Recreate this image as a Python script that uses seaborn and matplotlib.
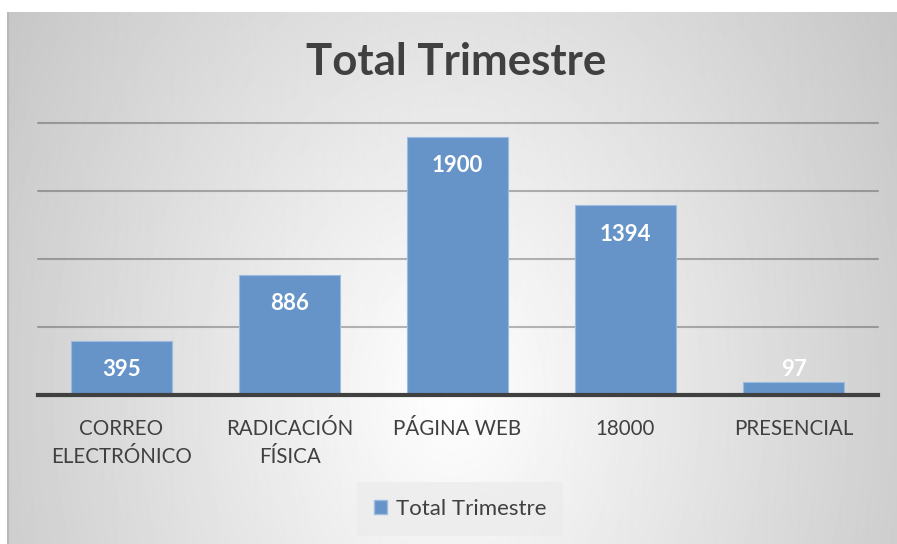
import numpy as np
import matplotlib
matplotlib.use('Agg')
import matplotlib.pyplot as plt
import seaborn as sns

# Data
categorias = ['CORREO\nELECTRÓNICO', 'RADICACIÓN\nFÍSICA', 'PÁGINA WEB', '18000', 'PRESENCIAL']
valores = [395, 886, 1900, 1394, 97]
serie = 'Total Trimestre'
titulo = 'Total Trimestre'
lineas_guia = [500, 1000, 1500, 2000]

bar_color = '#6794C8'
text_color = '#404040'

sns.set_theme(style='white')
plt.rcParams['font.family'] = ['Lato', 'DejaVu Sans']

fig = plt.figure(figsize=(8.97, 5.44), dpi=100)
fig.patch.set_facecolor('white')

# Radial grey gradient background of the chart area
bg = fig.add_axes([7 / 897, 0, 1 - 7 / 897, (544 - 12) / 544], zorder=-10)
yy, xx = np.mgrid[12:544, 7:897]
r = np.sqrt(((xx - 450) / 450.0) ** 2 + ((yy - 390) / 600.0) ** 2)
shade = np.clip(1 - 0.19 * r, 0, 1)
bg.imshow(shade, cmap='gray', vmin=0, vmax=1, aspect='auto', interpolation='bilinear')
bg.axvline(0, color='#b8b8b8', lw=1.5)
bg.set_axis_off()

ax = fig.add_axes([37.5 / 897, 149 / 544, 840 / 897, 272 / 544])
ax.patch.set_alpha(0)

sns.barplot(x=categorias, y=valores, color=bar_color, width=0.6, saturation=1,
            edgecolor='#9bbbe0', linewidth=0.8, ax=ax, zorder=3)

for g in lineas_guia:
    ax.axhline(g, color='black', alpha=0.27, lw=1.5, zorder=1, clip_on=False)

ax.set_ylim(0, 2000)
ax.set_yticks([])
ax.set_ylabel('')
ax.set_xlabel('')
for s in ['top', 'right', 'left']:
    ax.spines[s].set_visible(False)
ax.spines['bottom'].set_color('#404040')
ax.spines['bottom'].set_linewidth(3)
ax.spines['bottom'].set_zorder(5)
ax.tick_params(axis='x', length=0, pad=17, labelsize=14.8, labelcolor=text_color)
for lbl in ax.get_xticklabels():
    lbl.set_linespacing(1.5)

# Value labels: inside end, pushed above the axis if the bar is too short
for i, v in enumerate(valores):
    y = max(v - 213, 184)
    ax.text(i, y, str(v), ha='center', va='center', color='white',
            fontsize=16, fontweight='bold', zorder=6)

fig.text(0.509, 1 - 62 / 544, titulo, ha='center', va='center',
         fontsize=31.5, fontweight='bold', color=text_color)

handles = [plt.Rectangle((0, 0), 1, 1, facecolor=bar_color, edgecolor='#9bbbe0')]
leg = fig.legend(handles, [serie], loc='center', bbox_to_anchor=(0.513, 1 - 509 / 544),
                 frameon=True, fancybox=False, handlelength=0.6, handleheight=0.6,
                 handletextpad=0.4, borderpad=0.75, fontsize=16)
leg.get_frame().set_facecolor('#ececec')
leg.get_frame().set_edgecolor('none')
for t in leg.get_texts():
    t.set_color(text_color)

fig.savefig('out.png', dpi=100)
